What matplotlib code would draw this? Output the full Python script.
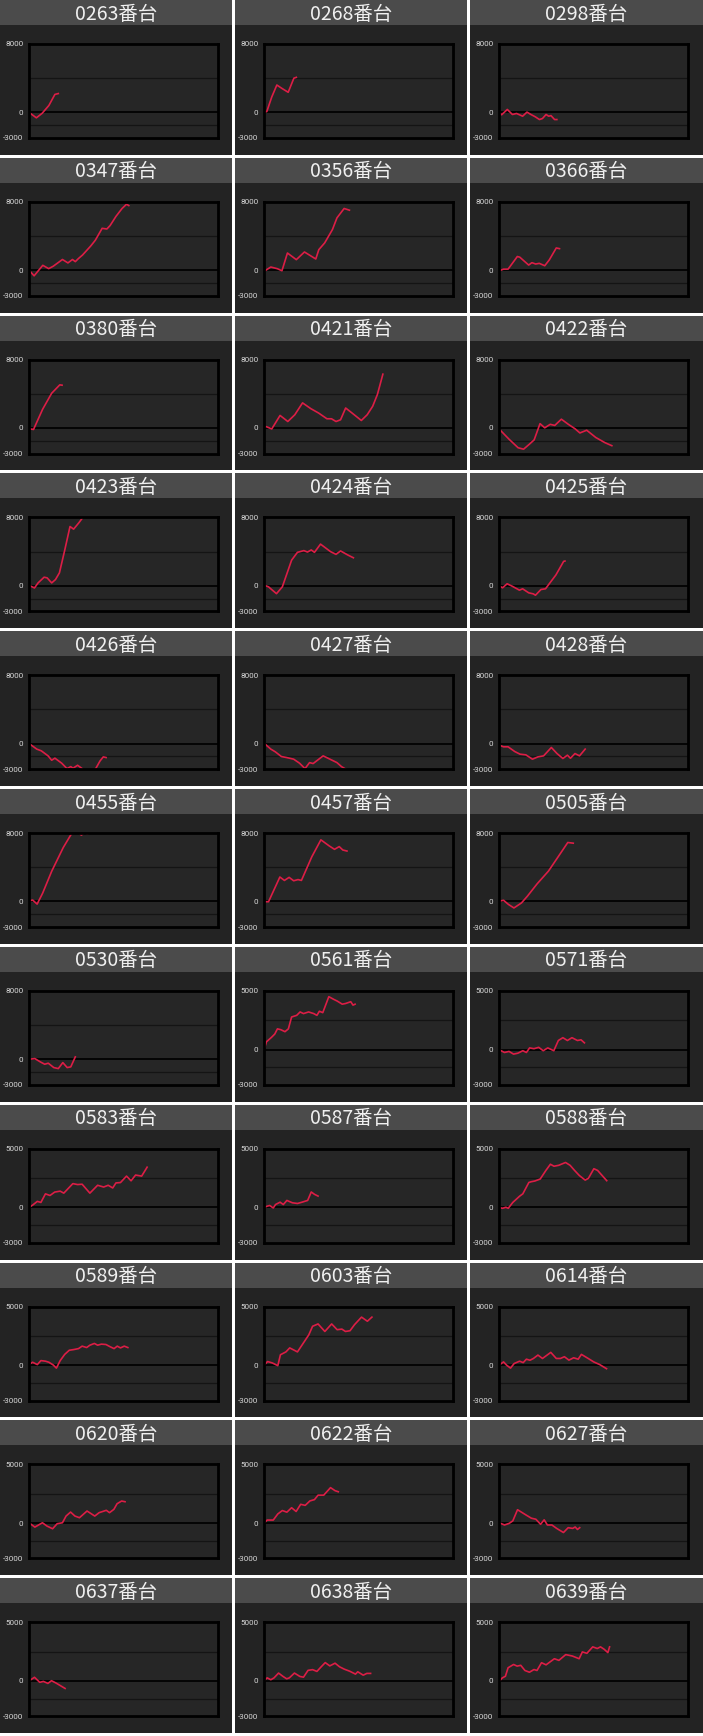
import matplotlib
matplotlib.use("Agg")
import matplotlib.pyplot as plt
from matplotlib.patches import Rectangle

# panel titles and y scale top
labels = ["0263", "0268", "0298", "0347", "0356", "0366", "0380", "0421", "0422",
          "0423", "0424", "0425", "0426", "0427", "0428", "0455", "0457", "0505",
          "0530", "0561", "0571", "0583", "0587", "0588", "0589", "0603", "0614",
          "0620", "0622", "0627", "0637", "0638", "0639"]
y_tops = [8000] * 19 + [5000] * 14

# x = percent of chart width, y = difference
x_0263 = [0, 3.9, 7, 10.5, 13.7, 15.5]
y_0263 = [0, -640, -100, 800, 2100, 2200]
x_0268 = [0, 1.5, 4.1, 6.8, 9.5, 12.8, 15.8, 17.1]
y_0268 = [0, 100, 1800, 3200, 2800, 2350, 4000, 4100]
x_0298 = [0, 1.4, 4.4, 7.1, 9.3, 12.5, 14.8, 16.9, 19.2, 21.4, 23, 24.9, 26.3, 27.5, 29.4, 30.6]
y_0298 = [0, -280, 340, -250, -130, -450, 30, -250, -520, -840, -720, -250, -450, -380, -840, -840]
x_0347 = [0, 2.7, 7.3, 10.4, 12.8, 17.7, 20.6, 23, 24.5, 26.2, 28.3, 32.7, 35.1, 38.7, 41.2, 42.9, 46, 49.2, 51.6, 52.8]
y_0347 = [0, -660, 570, 180, 460, 1250, 850, 1250, 1000, 1370, 1770, 2840, 3510, 4900, 4820, 5220, 6290, 7210, 7720, 7560]
x_0356 = [0, 3.6, 7.1, 9.5, 12.4, 17.1, 21.4, 27.4, 29, 32.1, 36.2, 38.6, 42.4, 45.2]
y_0356 = [-140, 370, 170, -65, 2010, 1230, 2130, 1310, 2400, 3190, 4750, 6120, 7220, 7020]
x_0366 = [0, 2.4, 4.8, 9.7, 11, 15.7, 17.4, 19.4, 21.3, 24.2, 26.6, 30.3, 32]
y_0366 = [-80, 120, 120, 1600, 1520, 600, 880, 720, 800, 520, 1200, 2600, 2520]
x_0380 = [0, 2.4, 7.2, 12, 16.3, 17.5]
y_0380 = [-90, -170, 2190, 4070, 5050, 5010]
x_0421 = [0, 1.2, 4.1, 8.5, 12.6, 16.3, 20.4, 24.8, 28.9, 33.3, 35.7, 38.1, 40.5, 43.2, 46.6, 51.5, 54.6, 57.5, 60, 62.9]
y_0421 = [90, 160, -110, 1470, 760, 1550, 2940, 2260, 1750, 1080, 1080, 760, 960, 2340, 1750, 880, 1550, 2540, 3920, 6300]
x_0422 = [0, 5.3, 10.1, 13, 16.2, 18.6, 21.7, 24.2, 27.1, 29.5, 33, 36.7, 40.3, 42.8, 46.4, 51.2, 56, 59.7]
y_0422 = [-100, -1310, -2310, -2480, -1870, -1390, 510, 20, 430, 300, 1030, 430, -100, -580, -260, -1110, -1710, -2070]
x_0423 = [0, 2.9, 4.8, 8, 9.6, 12, 14, 16.1, 18.8, 21.7, 23.6, 26.5, 28.2]
y_0423 = [60, -250, 340, 1010, 930, 340, 730, 1520, 4070, 6940, 6630, 7410, 7920]
x_0424 = [0, 2.4, 6.6, 9.7, 14.6, 17.7, 21.1, 23, 25, 26.7, 29.9, 35.2, 38.1, 40.5, 44.4, 47.3]
y_0424 = [80, -120, -920, -120, 3000, 3920, 4120, 3950, 4200, 3920, 4880, 4000, 3680, 4080, 3600, 3280]
x_0425 = [0, 1.9, 4.3, 7.2, 10.8, 12.5, 15.7, 18.1, 19.3, 22.2, 24.6, 27, 30.1, 34.2, 34.9]
y_0425 = [0, -230, 240, -70, -510, -350, -820, -940, -1100, -430, -350, 360, 1270, 2860, 2900]
x_0426 = [0, 4.1, 6.5, 10.1, 12, 13.7, 17.3, 20.1, 22.1, 23.3, 25.7, 28.1, 30, 33, 35.3, 37.6, 39.3, 40.8]
y_0426 = [20, -640, -840, -1430, -1940, -1700, -2290, -2920, -2690, -2880, -2530, -2920, -3500, -3500, -2920, -2020, -1550, -1630]
x_0427 = [0, 3.6, 6, 9.2, 12, 15.7, 18.8, 21.7, 24.1, 26, 31.3, 34.9, 38.6, 41, 43.4]
y_0427 = [60, -640, -960, -1510, -1630, -1820, -2290, -2920, -2220, -2330, -1430, -1820, -2220, -2690, -3000]
x_0428 = [0, 2.4, 4.8, 8.3, 11.1, 14.2, 17.7, 20.6, 23.6, 27.7, 30.7, 33.8, 36.2, 37.8, 40.2, 42.6, 45.6]
y_0428 = [-170, -370, -370, -920, -1230, -1310, -1820, -1550, -1430, -450, -1160, -1740, -1350, -1710, -1160, -1430, -640]
x_0455 = [0, 1.9, 4.3, 7.2, 12, 18.1, 22.9, 24.5, 26, 27.7, 29.4, 30.8, 32]
y_0455 = [50, 170, -310, 960, 3530, 6300, 8080, 8350, 8100, 7760, 8050, 7880, 8000]
x_0457 = [0, 2.4, 8.4, 10.8, 13.3, 15.7, 18, 19.8, 25.3, 30.1, 34.5, 37.3, 39.8, 41.7, 43.9]
y_0457 = [-30, -30, 2860, 2460, 2820, 2420, 2560, 2460, 5230, 7210, 6500, 6100, 6420, 6020, 5900]
x_0505 = [0, 2.4, 5, 7.9, 11.9, 15, 20.2, 26.2, 31, 36.4, 39.3]
y_0505 = [20, 140, -350, -760, -170, 610, 2070, 3560, 5130, 6900, 6820]
x_0530 = [0, 3.1, 6, 8.3, 10.2, 13.1, 15.5, 17.9, 20.2, 22.1, 24.5]
y_0530 = [0, 80, -310, -580, -460, -970, -1090, -390, -970, -890, 280]
x_0561 = [0, 1.3, 3.9, 5.7, 7.1, 8.9, 11.1, 12.9, 14.6, 17.3, 19.1, 20.9, 23.6, 26.3, 28, 29.3, 31.1, 34.3, 36.9, 38.8, 41.4, 43.2, 45.9, 47.1, 48.2]
y_0561 = [0, 670, 1040, 1330, 1770, 1700, 1530, 1770, 2780, 2920, 3210, 3070, 3210, 3070, 2920, 3270, 3150, 4510, 4280, 4130, 3870, 3930, 4080, 3790, 3870]
x_0571 = [0, 2.9, 5.3, 7.7, 10, 12.6, 14.5, 16.2, 18.5, 21, 23.4, 25.8, 29, 31.4, 33.8, 36.2, 38.6, 41.5, 43.4, 45.2]
y_0571 = [0, -240, -150, -380, -300, -90, -240, 150, 80, 200, -90, 150, -90, 780, 1020, 780, 1020, 780, 840, 580]
x_0583 = [0, 1.9, 4.4, 6.3, 8.7, 11.1, 13.6, 16.5, 18.4, 23.2, 25.7, 28.1, 32.2, 36.3, 39.5, 41.9, 44.3, 46, 48.4, 51.6, 54, 56.4, 59.6, 62.5]
y_0583 = [0, 200, 520, 430, 1160, 1020, 1310, 1390, 1220, 2030, 1950, 1980, 1220, 1890, 1740, 1890, 1660, 2090, 2120, 2670, 2270, 2760, 2670, 3430]
x_0587 = [0, 1.7, 3, 4.9, 6.1, 8.5, 10.2, 12.1, 15, 17.7, 20.1, 23.1, 25, 26.7, 28.6]
y_0587 = [0, 110, 170, -40, 250, 450, 250, 600, 400, 340, 450, 600, 1320, 1120, 970]
x_0588 = [0, 1.9, 3.6, 4.9, 7.3, 10.9, 12.6, 15.8, 17, 18.9, 21.8, 24.8, 27.2, 29.1, 31.6, 35.2, 37.6, 40, 42.5, 45.6, 47.3, 50.2, 52.2, 57]
y_0588 = [0, -70, 20, -70, 430, 960, 1160, 2130, 2190, 2250, 2420, 3150, 3680, 3510, 3590, 3830, 3590, 3150, 2720, 2330, 2480, 3300, 3150, 2280]
x_0589 = [0, 1.9, 4.4, 6.3, 8.7, 10.5, 12.8, 14.5, 16.5, 18.9, 21.3, 23.7, 26.2, 28.1, 30.5, 32.2, 34.6, 36.3, 38.3, 40.7, 42.8, 45, 46.7, 48.4, 50.4, 52.3]
y_0589 = [60, 260, 60, 400, 350, 260, 30, -240, 400, 930, 1280, 1340, 1420, 1630, 1510, 1710, 1860, 1710, 1800, 1770, 1590, 1420, 1630, 1480, 1630, 1510]
x_0603 = [0, 1.9, 4.4, 7.3, 8.7, 11.6, 13.6, 17.7, 21.3, 23.7, 25.7, 28.6, 32.2, 35.8, 38.7, 41.2, 43.1, 45.5, 47.9, 51.6, 54.7, 57.1]
y_0603 = [0, 320, 200, -30, 900, 1140, 1480, 1140, 2010, 2590, 3320, 3520, 2880, 3520, 3030, 3080, 2880, 2940, 3460, 4100, 3750, 4100]
x_0614 = [0, 2.4, 4.1, 6.1, 8, 10.9, 12.8, 14.5, 16.4, 18.2, 20.6, 23, 27.4, 30.3, 32.5, 34.6, 37, 39.5, 41.9, 43.6, 47.2, 50.1, 53.3, 56.9]
y_0614 = [0, 290, 0, -240, 150, 350, 230, 520, 430, 580, 870, 580, 1100, 580, 580, 730, 440, 640, 520, 930, 580, 290, 60, -290]
x_0620 = [0, 3.1, 7.1, 9.5, 12.5, 14.9, 17.7, 19.6, 22, 24.3, 26.7, 30.7, 34.8, 37.1, 40.9, 42.6, 44.9, 46.6, 49, 50.8]
y_0620 = [30, -340, 30, -250, -480, -50, 30, 600, 940, 600, 460, 1030, 600, 890, 1090, 890, 1170, 1650, 1880, 1820]
x_0622 = [0, 1.7, 4.9, 7.3, 9.7, 12.1, 14.6, 17, 19.4, 21.8, 24.3, 26.7, 28.6, 31.6, 35.2, 37.6, 39.3]
y_0622 = [0, 260, 260, 780, 1070, 930, 1310, 990, 1600, 1510, 1890, 2000, 2380, 2380, 3020, 2760, 2670]
x_0627 = [0, 2.9, 5.4, 7.3, 9.8, 14.1, 17.1, 19.5, 22, 23.9, 25.6, 28, 30.5, 34.1, 36.6, 39, 40.3, 41.5, 42.7]
y_0627 = [40, -160, -20, 190, 1140, 710, 420, 330, -100, 280, -160, -160, -450, -800, -390, -450, -330, -540, -390]
x_0637 = [0, 2.9, 5.7, 7.6, 10, 11.9, 14.3, 16.7, 19.1]
y_0637 = [0, 310, -120, -40, -210, 20, -180, -410, -640]
x_0638 = [0, 1.7, 3.6, 5.3, 7.7, 10.1, 12, 13.4, 16.1, 19, 20.9, 23.3, 25.7, 28, 30, 32.4, 34.8, 37.6, 40, 42.5, 45.3, 48.4, 49.6, 52.5, 54.4, 56.4]
y_0638 = [30, 260, 100, 260, 670, 380, 180, 260, 670, 380, 320, 900, 960, 810, 1160, 1560, 1280, 1510, 1200, 1000, 830, 580, 780, 490, 640, 640]
x_0639 = [0, 1.7, 3.4, 4.8, 7.7, 9.6, 11.5, 13.7, 16.1, 18.5, 20.1, 22.5, 24.9, 29.3, 31.7, 35.3, 38.8, 42.4, 44.1, 46.5, 49.6, 52, 53.7, 55.6, 57.6, 58.5]
y_0639 = [-40, 250, 400, 1120, 1400, 1260, 1330, 890, 740, 970, 890, 1550, 1370, 1890, 1750, 2240, 2120, 1890, 2470, 2350, 2900, 2760, 2900, 2700, 2410, 2900]

series = [(x_0263, y_0263), (x_0268, y_0268), (x_0298, y_0298), (x_0347, y_0347),
          (x_0356, y_0356), (x_0366, y_0366), (x_0380, y_0380), (x_0421, y_0421),
          (x_0422, y_0422), (x_0423, y_0423), (x_0424, y_0424), (x_0425, y_0425),
          (x_0426, y_0426), (x_0427, y_0427), (x_0428, y_0428), (x_0455, y_0455),
          (x_0457, y_0457), (x_0505, y_0505), (x_0530, y_0530), (x_0561, y_0561),
          (x_0571, y_0571), (x_0583, y_0583), (x_0587, y_0587), (x_0588, y_0588),
          (x_0589, y_0589), (x_0603, y_0603), (x_0614, y_0614), (x_0620, y_0620),
          (x_0622, y_0622), (x_0627, y_0627), (x_0637, y_0637), (x_0638, y_0638),
          (x_0639, y_0639)]

W, H = 703, 1736
P = H / 11
col_x = [0, 235, 470]
col_w = [232, 232, 233]
panel_h = P - 3


def frect(x, y, w, h):
    # pixel box (top-left origin) -> figure fraction
    return [x / W, 1 - (y + h) / H, w / W, h / H]


fig = plt.figure(figsize=(W / 100, H / 100), dpi=100, facecolor="white")

for i, name in enumerate(labels):
    r, c = divmod(i, 3)
    px, py, pw = col_x[c], r * P, col_w[c]
    l, b, w, h = frect(px, py, pw, panel_h)
    fig.add_artist(Rectangle((l, b), w, h, transform=fig.transFigure,
                             facecolor="#232323", edgecolor="none", zorder=-10))
    l, b, w, h = frect(px, py, pw, 25)
    fig.add_artist(Rectangle((l, b), w, h, transform=fig.transFigure,
                             facecolor="#4b4b4b", edgecolor="none", zorder=-9))
    fig.text((px + pw / 2) / W, 1 - (py + 14) / H, name + "番台",
             ha="center", va="center", fontsize=14, color="#f0f0f0",
             family=["Noto Sans CJK JP", "DejaVu Sans"])

    top = y_tops[i]
    ax = fig.add_axes(frect(px + 29, py + 44, 189, 94))
    ax.set_facecolor("#262626")
    ax.set_xlim(0, 100)
    ax.set_ylim(-3000, top)
    ax.axhline(top / 2, color="#141414", lw=0.9, zorder=1)
    ax.axhline(-1500, color="#141414", lw=0.9, zorder=1)
    ax.axhline(0, color="#050505", lw=1.4, zorder=1)
    xs, ys = series[i]
    ax.plot(xs, ys, color="#dc1e46", lw=1.2, solid_joinstyle="round", zorder=2)
    ax.set_xticks([])
    ax.set_yticks([top, 0, -3000])
    ax.set_yticklabels([str(top), "0", "-3000"], fontsize=5.8, color="#d8d8d8",
                       family="Roboto")
    ax.tick_params(axis="y", length=0, pad=4)
    for s in ax.spines.values():
        s.set_color("black")
        s.set_linewidth(2)

fig.savefig("out.png", dpi=100, facecolor="white")
